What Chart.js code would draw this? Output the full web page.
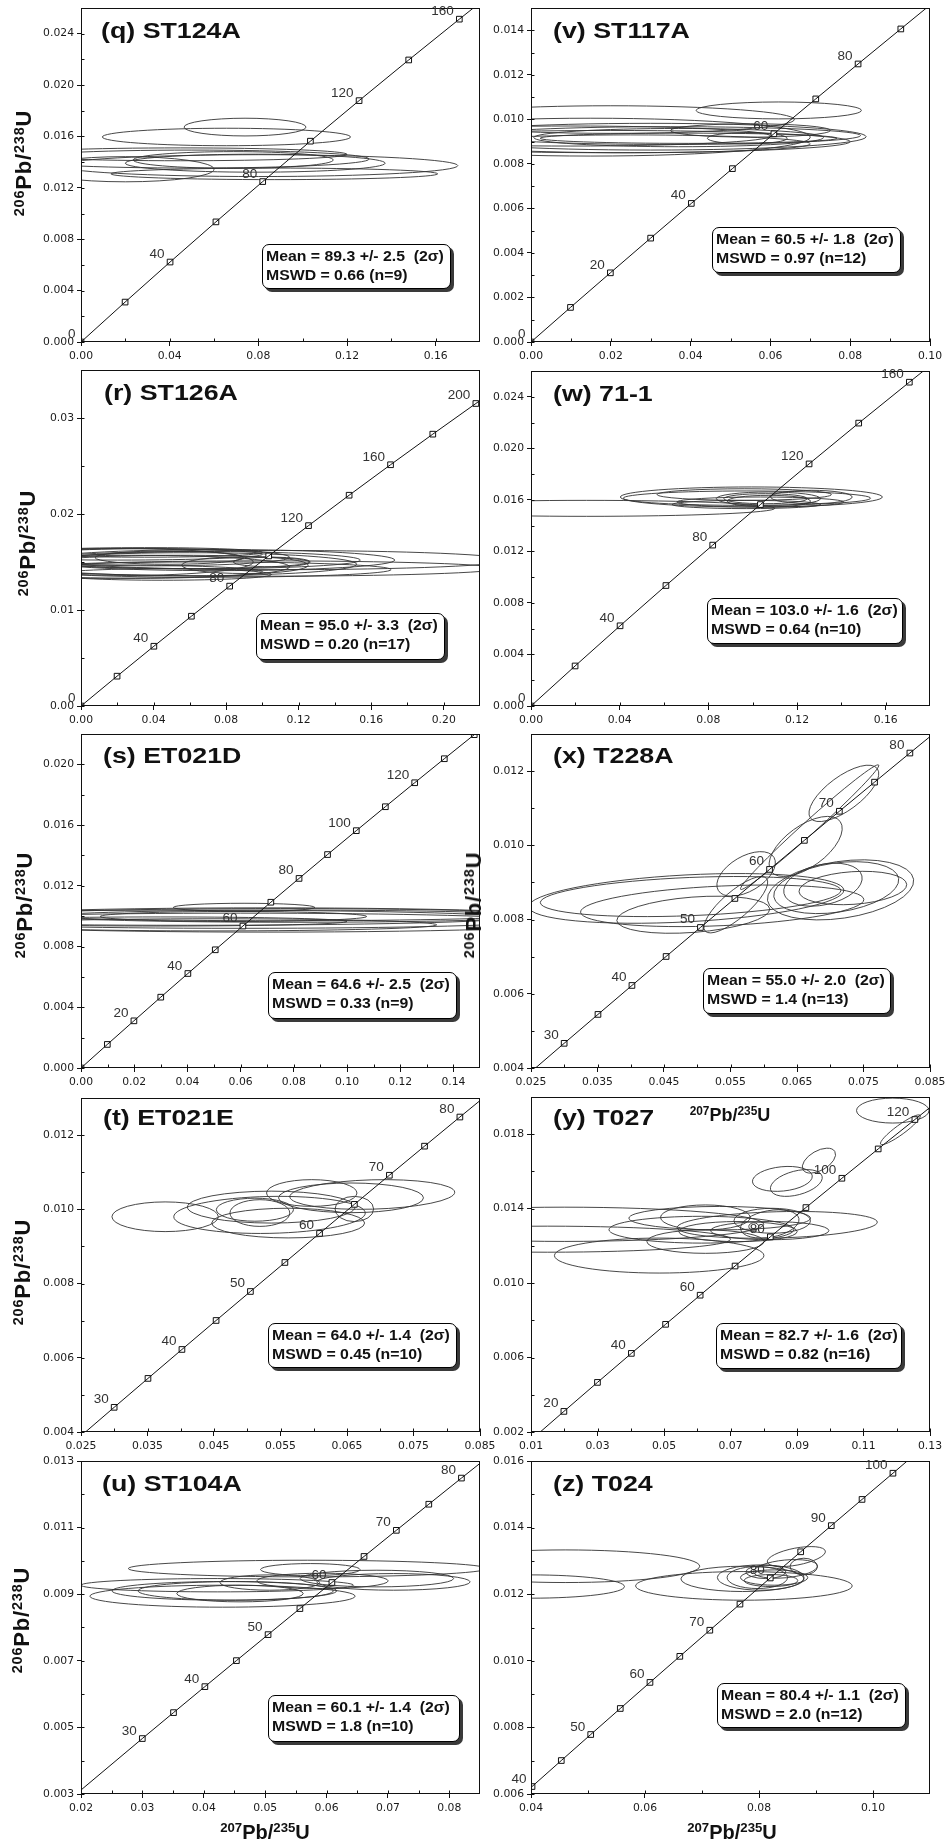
<!DOCTYPE html>
<html>
<head>
<meta charset="utf-8">
<script src="https://cdn.jsdelivr.net/npm/chart.js@4.4.0/dist/chart.umd.min.js"></script>
<style>
  body { margin: 0; background: #fff; width: 949px; height: 1842px; position: relative; overflow: hidden;
         font-family: "Liberation Sans", Arial, sans-serif; color: #111; }
  canvas { position: absolute; }
  .ttl { position: absolute; font-weight: bold; font-size: 22.5px; line-height: 1; white-space: nowrap;
         transform-origin: 0 0; transform: scaleX(1.19); }
  .box { position: absolute; box-sizing: border-box; border: 1.5px solid #000; border-radius: 7px;
         background: #fff; box-shadow: 3px 3px 0 #3a3a3a; }
  .box div { position: absolute; left: 3px; font-weight: bold; font-size: 14px; line-height: 1;
             white-space: pre; transform-origin: 0 0; transform: scaleX(1.13); }
  .ytl { position: absolute; font-weight: bold; font-size: 22px; line-height: 1; white-space: nowrap;
         letter-spacing: 0.8px; transform: translate(-50%, -50%) rotate(-90deg); }
  .xtl { position: absolute; font-weight: bold; line-height: 1; white-space: nowrap; transform: translateX(-50%); }
  .s { font-size: 0.66em; position: relative; top: -0.5em; }
</style>
</head>
<body>
<script>
// Concordia reference marks: age (Ma), 207Pb/235U, 206Pb/238U
const ageTab  = [0, 5, 10, 15, 20, 25, 30, 35, 40, 45, 50, 55, 60, 65, 70, 75, 80, 85, 90, 95, 100, 110, 120, 130, 140, 160, 180, 200];
const r207Tab = [0, 0.004936, 0.009897, 0.014883, 0.019892, 0.024927, 0.029986, 0.035071, 0.040180, 0.045315,
                 0.050475, 0.055661, 0.060872, 0.066109, 0.071371, 0.076660, 0.081975, 0.087316, 0.092683, 0.098077,
                 0.103498, 0.114420, 0.125450, 0.136588, 0.147839, 0.170675, 0.193966, 0.217718];
const r206Tab = [0, 0.000776, 0.001553, 0.002330, 0.003107, 0.003885, 0.004665, 0.005444, 0.006224, 0.007005,
                 0.007786, 0.008568, 0.009351, 0.010134, 0.010918, 0.011702, 0.012487, 0.013273, 0.014059, 0.014846,
                 0.015633, 0.017210, 0.018789, 0.020371, 0.021955, 0.025131, 0.028316, 0.031511];

// Error ellipses: [207/235, 206/238, half-width x, half-height y, rho]

// (q) ST124A
const qXT = ['0.00', '0.04', '0.08', '0.12', '0.16'];
const qYT = ['0.000', '0.004', '0.008', '0.012', '0.016', '0.020', '0.024'];
const qMarks = [0, 20, 40, 60, 80, 100, 120, 140, 160];
const qLabels = [0, 40, 80, 120, 160];
const qEnds = [[0, 0], [0.1770, 0.0260]];
const qEll = [
  [0.0740, 0.01673, 0.0275, 0.00069, 0], [0.0656, 0.01596, 0.0560, 0.00068, 0],
  [0.0800, 0.01373, 0.0900, 0.00085, 0], [0.0872, 0.01309, 0.0737, 0.00045, 0],
  [0.0786, 0.01392, 0.0586, 0.00070, 0], [0.0500, 0.01424, 0.0800, 0.00070, 0],
  [0.0450, 0.01461, 0.0750, 0.00050, 0], [0.0200, 0.01345, 0.0400, 0.00098, 0],
  [0.0687, 0.01417, 0.0451, 0.00065, 0]
];

// (v) ST117A
const vXT = ['0.00', '0.02', '0.04', '0.06', '0.08', '0.10'];
const vYT = ['0.000', '0.002', '0.004', '0.006', '0.008', '0.010', '0.012', '0.014'];
const vMarks = [0, 10, 20, 30, 40, 50, 60, 70, 80, 90];
const vLabels = [0, 20, 40, 60, 80];
const vEnds = [[0, 0], [0.0991, 0.0150]];
const vEll = [
  [0.0621, 0.01040, 0.0207, 0.00038, 0], [0.0200, 0.00999, 0.0460, 0.00062, 0],
  [0.0300, 0.00922, 0.0540, 0.00060, 0], [0.0350, 0.00927, 0.0476, 0.00040, 0],
  [0.0370, 0.00918, 0.0363, 0.00041, 0], [0.0395, 0.00915, 0.0372, 0.00023, 0],
  [0.0542, 0.00915, 0.0100, 0.00025, 0], [0.0200, 0.00900, 0.0600, 0.00050, 0],
  [0.0150, 0.00920, 0.0550, 0.00085, 0], [0.0100, 0.00925, 0.0500, 0.00045, 0],
  [0.0550, 0.00950, 0.0200, 0.00030, 0], [0.0250, 0.00890, 0.0450, 0.00040, 0]
];

// (r) ST126A
const rXT = ['0.00', '0.04', '0.08', '0.12', '0.16', '0.20'];
const rYT = ['0.00', '0.01', '0.02', '0.03'];
const rMarks = [0, 20, 40, 60, 80, 100, 120, 140, 160, 180, 200];
const rLabels = [0, 40, 80, 120, 160, 200];
const rEnds = [[0, 0], [0.2200, 0.03182]];
const rEll = [
  [0.110, 0.01520, 0.125, 0.00100, 0], [0.100, 0.01432, 0.130, 0.00080, 0],
  [0.075, 0.01520, 0.098, 0.00110, 0], [0.070, 0.01421, 0.101, 0.00080, 0],
  [0.065, 0.01520, 0.089, 0.00090, 0], [0.060, 0.01477, 0.092, 0.00120, 0],
  [0.055, 0.01500, 0.071, 0.00070, 0], [0.0904, 0.01467, 0.0349, 0.00087, 0],
  [0.0486, 0.01546, 0.0409, 0.00070, 0], [0.1052, 0.01500, 0.0212, 0.00050, 0],
  [0.020, 0.01580, 0.080, 0.00060, 0], [0.030, 0.01450, 0.085, 0.00120, 0],
  [0.010, 0.01400, 0.090, 0.00070, 0], [0.040, 0.01550, 0.075, 0.00090, 0],
  [0.025, 0.01500, 0.070, 0.00140, 0], [0.045, 0.01370, 0.060, 0.00060, 0],
  [0.035, 0.01600, 0.065, 0.00050, 0]
];

// (w) 71-1
const wXT = ['0.00', '0.04', '0.08', '0.12', '0.16'];
const wYT = ['0.000', '0.004', '0.008', '0.012', '0.016', '0.020', '0.024'];
const wMarks = [0, 20, 40, 60, 80, 100, 120, 140, 160];
const wLabels = [0, 40, 80, 120, 160];
const wEnds = [[0, 0], [0.1770, 0.0260]];
const wEll = [
  [0.0994, 0.01622, 0.0591, 0.00078, 0], [0.0974, 0.01613, 0.0558, 0.00056, 0],
  [0.0250, 0.01534, 0.0850, 0.00062, 0], [0.0962, 0.01641, 0.0393, 0.00045, 0],
  [0.0971, 0.01564, 0.0335, 0.00032, 0], [0.1071, 0.01609, 0.0235, 0.00052, 0],
  [0.1058, 0.01609, 0.0188, 0.00039, 0], [0.1265, 0.01622, 0.0184, 0.00052, 0],
  [0.1035, 0.01583, 0.0376, 0.00039, 0], [0.1073, 0.01590, 0.0188, 0.00045, 0]
];

// (s) ET021D
const sXT = ['0.00', '0.02', '0.04', '0.06', '0.08', '0.10', '0.12', '0.14'];
const sYT = ['0.000', '0.004', '0.008', '0.012', '0.016', '0.020'];
const sMarks = [0, 10, 20, 30, 40, 50, 60, 70, 80, 90, 100, 110, 120, 130, 140];
const sLabels = [20, 40, 60, 80, 100, 120];
const sEnds = [[0, 0], [0.1482, 0.0220]];
const sEll = [
  [0.0613, 0.01058, 0.0266, 0.00027, 0], [0.0573, 0.00998, 0.0501, 0.00033, 0],
  [0.0700, 0.00975, 0.1300, 0.00080, 0], [0.0600, 0.00970, 0.1100, 0.00050, 0],
  [0.0800, 0.01000, 0.0900, 0.00040, 0], [0.0500, 0.00943, 0.0837, 0.00040, 0],
  [0.0400, 0.00990, 0.1200, 0.00050, 0], [0.0750, 0.01010, 0.0950, 0.00040, 0],
  [0.0300, 0.00965, 0.0700, 0.00030, 0]
];

// (x) T228A
const xXT = ['0.025', '0.035', '0.045', '0.055', '0.065', '0.075', '0.085'];
const xYT = ['0.004', '0.006', '0.008', '0.010', '0.012'];
const xMarks = [30, 35, 40, 45, 50, 55, 60, 65, 70, 75, 80];
const xLabels = [30, 40, 50, 60, 70, 80];
const xEnds = [[0.02567, 0.0040], [0.0850, 0.01293]];
const xEll = [
  [0.04835, 0.00857, 0.0237, 0.00067, 0.33], [0.0490, 0.00862, 0.0226, 0.00054, 0.3],
  [0.05375, 0.00837, 0.0213, 0.00056, 0.3], [0.0494, 0.00813, 0.0115, 0.00050, 0.3],
  [0.05735, 0.00923, 0.0044, 0.00060, 0.5], [0.0558, 0.00840, 0.0048, 0.00076, 0.8],
  [0.0669, 0.01049, 0.0104, 0.00168, 0.99], [0.07205, 0.01140, 0.00525, 0.00076, 0.7],
  [0.0663, 0.00997, 0.0055, 0.00081, 0.6], [0.07155, 0.00880, 0.0110, 0.00081, 0.3],
  [0.0709, 0.00886, 0.0094, 0.00070, 0.3], [0.0689, 0.00894, 0.0059, 0.00058, 0.3],
  [0.0734, 0.00885, 0.0081, 0.00045, 0.2]
];

// (t) ET021E
const tXT = ['0.025', '0.035', '0.045', '0.055', '0.065', '0.075', '0.085'];
const tYT = ['0.004', '0.006', '0.008', '0.010', '0.012'];
const tMarks = [30, 35, 40, 45, 50, 55, 60, 65, 70, 75, 80];
const tLabels = [30, 40, 50, 60, 70, 80];
const tEnds = [[0.02567, 0.0040], [0.0850, 0.01293]];
const tEll = [
  [0.03765, 0.00980, 0.0080, 0.00040, 0], [0.05335, 0.00985, 0.0144, 0.00050, 0.1],
  [0.0536, 0.01006, 0.0126, 0.00043, 0], [0.05615, 0.00963, 0.0115, 0.00040, 0],
  [0.0519, 0.00990, 0.0045, 0.00036, 0], [0.05115, 0.00999, 0.0058, 0.00031, 0],
  [0.0597, 0.01044, 0.0068, 0.00036, 0], [0.0656, 0.01031, 0.0109, 0.00040, 0],
  [0.0688, 0.01040, 0.0124, 0.00040, 0.15], [0.0661, 0.01001, 0.0029, 0.00034, 0]
];

// (y) T027
const yXT = ['0.01', '0.03', '0.05', '0.07', '0.09', '0.11', '0.13'];
const yYT = ['0.002', '0.006', '0.010', '0.014', '0.018'];
const yMarks = [20, 30, 40, 50, 60, 70, 80, 90, 100, 110, 120];
const yLabels = [20, 40, 60, 80, 100, 120];
const yEnds = [[0.01277, 0.0020], [0.1300, 0.01944]];
const yEll = [
  [0.1188, 0.01927, 0.0109, 0.00067, 0], [0.1211, 0.01824, 0.0060, 0.00080, 0.92],
  [0.0966, 0.01658, 0.0050, 0.00067, 0.5], [0.0856, 0.01560, 0.0090, 0.00067, 0.2],
  [0.0898, 0.01538, 0.0078, 0.00072, 0.4], [0.0200, 0.01316, 0.0600, 0.00092, 0],
  [0.0150, 0.01236, 0.0550, 0.00070, 0], [0.04855, 0.01148, 0.0315, 0.00094, 0],
  [0.06675, 0.01349, 0.0273, 0.00063, 0], [0.06245, 0.01353, 0.0135, 0.00067, 0],
  [0.06125, 0.01287, 0.0278, 0.00072, 0], [0.06245, 0.01223, 0.0176, 0.00063, 0],
  [0.08405, 0.01313, 0.0301, 0.00072, 0.2], [0.07225, 0.01277, 0.0178, 0.00054, 0],
  [0.0818, 0.01282, 0.0178, 0.00049, 0], [0.08255, 0.01335, 0.0115, 0.00067, 0],
  [0.0770, 0.01304, 0.0015, 0.00020, 0], [0.0818, 0.01318, 0.0088, 0.00076, 0.3]
];

// (u) ST104A
const uXT = ['0.02', '0.03', '0.04', '0.05', '0.06', '0.07', '0.08'];
const uYT = ['0.003', '0.005', '0.007', '0.009', '0.011', '0.013'];
const uMarks = [30, 35, 40, 45, 50, 55, 60, 65, 70, 75, 80];
const uLabels = [30, 40, 50, 60, 70, 80];
const uEnds = [[0.0200, 0.00312], [0.0850, 0.01293]];
const uEll = [
  [0.0569, 0.00977, 0.0292, 0.00025, 0], [0.05735, 0.00974, 0.0081, 0.00018, 0],
  [0.0422, 0.00927, 0.0222, 0.00020, 0], [0.04305, 0.00894, 0.0216, 0.00033, 0],
  [0.04335, 0.00910, 0.0183, 0.00028, 0], [0.0452, 0.00910, 0.0159, 0.00028, 0],
  [0.0459, 0.00902, 0.0103, 0.00025, 0], [0.05075, 0.00935, 0.0081, 0.00023, 0],
  [0.05935, 0.00940, 0.0107, 0.00023, 0], [0.0709, 0.00937, 0.0125, 0.00025, 0],
  [0.0682, 0.00947, 0.0125, 0.00025, 0]
];

// (z) T024
const zXT = ['0.04', '0.06', '0.08', '0.10'];
const zYT = ['0.006', '0.008', '0.010', '0.012', '0.014', '0.016'];
const zMarks = [40, 45, 50, 55, 60, 65, 70, 75, 80, 85, 90, 95, 100];
const zLabels = [40, 50, 60, 70, 80, 90, 100];
const zEnds = [[0.0400, 0.0062], [0.1060, 0.0160]];
const zEll = [
  [0.0460, 0.01284, 0.0236, 0.00049, 0], [0.0400, 0.01223, 0.0164, 0.00035, 0],
  [0.07735, 0.01225, 0.0190, 0.00043, 0], [0.0771, 0.01246, 0.0108, 0.00038, 0],
  [0.0803, 0.01250, 0.0076, 0.00038, 0], [0.0797, 0.01250, 0.0053, 0.00033, 0],
  [0.08265, 0.01250, 0.0059, 0.00023, 0], [0.08465, 0.01276, 0.0056, 0.00028, 0.3],
  [0.08655, 0.01313, 0.0051, 0.00030, 0.5], [0.08785, 0.01283, 0.0024, 0.00025, 0],
  [0.0812, 0.01267, 0.0035, 0.00020, 0], [0.0821, 0.01241, 0.0047, 0.00018, 0]
];

// panel layout: plot box [left, top, right, bottom], axis ranges, titles, stats box
const panels = [
  { title: '(q) ST124A', at: [101, 39.5], box: [81, 8, 480, 342], xr: [0, 0.18], yr: [0, 0.026],
    xt: qXT, yt: qYT, marks: qMarks, labels: qLabels, ends: qEnds, ell: qEll,
    stat: ['Mean = 89.3 +/- 2.5  (2σ)', 'MSWD = 0.66 (n=9)'], sbox: [262, 244, 189, 45] },
  { title: '(v) ST117A', at: [553, 39.5], box: [531, 8, 930, 342], xr: [0, 0.10], yr: [0, 0.015],
    xt: vXT, yt: vYT, marks: vMarks, labels: vLabels, ends: vEnds, ell: vEll,
    stat: ['Mean = 60.5 +/- 1.8  (2σ)', 'MSWD = 0.97 (n=12)'], sbox: [712, 227, 189, 46] },
  { title: '(r) ST126A', at: [104, 401], box: [81, 370, 480, 706], xr: [0, 0.22], yr: [0, 0.035],
    xt: rXT, yt: rYT, marks: rMarks, labels: rLabels, ends: rEnds, ell: rEll,
    stat: ['Mean = 95.0 +/- 3.3  (2σ)', 'MSWD = 0.20 (n=17)'], sbox: [256, 613, 189, 47] },
  { title: '(w) 71-1', at: [553, 402], box: [531, 371, 930, 706], xr: [0, 0.18], yr: [0, 0.026],
    xt: wXT, yt: wYT, marks: wMarks, labels: wLabels, ends: wEnds, ell: wEll,
    stat: ['Mean = 103.0 +/- 1.6  (2σ)', 'MSWD = 0.64 (n=10)'], sbox: [707, 598, 196, 46] },
  { title: '(s) ET021D', at: [103, 764], box: [81, 734, 480, 1068], xr: [0, 0.15], yr: [0, 0.022],
    xt: sXT, yt: sYT, marks: sMarks, labels: sLabels, ends: sEnds, ell: sEll,
    stat: ['Mean = 64.6 +/- 2.5  (2σ)', 'MSWD = 0.33 (n=9)'], sbox: [268, 972, 189, 47] },
  { title: '(x) T228A', at: [553, 764], box: [531, 734, 930, 1068], xr: [0.025, 0.085], yr: [0.004, 0.013],
    xt: xXT, yt: xYT, marks: xMarks, labels: xLabels, ends: xEnds, ell: xEll,
    stat: ['Mean = 55.0 +/- 2.0  (2σ)', 'MSWD = 1.4 (n=13)'], sbox: [703, 968, 188, 46] },
  { title: '(t) ET021E', at: [103, 1126], box: [81, 1098, 480, 1432], xr: [0.025, 0.085], yr: [0.004, 0.013],
    xt: tXT, yt: tYT, marks: tMarks, labels: tLabels, ends: tEnds, ell: tEll,
    stat: ['Mean = 64.0 +/- 1.4  (2σ)', 'MSWD = 0.45 (n=10)'], sbox: [268, 1323, 189, 45] },
  { title: '(y) T027', at: [553, 1126], box: [531, 1097, 930, 1432], xr: [0.01, 0.13], yr: [0.002, 0.020],
    xt: yXT, yt: yYT, marks: yMarks, labels: yLabels, ends: yEnds, ell: yEll,
    stat: ['Mean = 82.7 +/- 1.6  (2σ)', 'MSWD = 0.82 (n=16)'], sbox: [716, 1323, 186, 46] },
  { title: '(u) ST104A', at: [102, 1492], box: [81, 1461, 480, 1794], xr: [0.02, 0.085], yr: [0.003, 0.013],
    xt: uXT, yt: uYT, marks: uMarks, labels: uLabels, ends: uEnds, ell: uEll,
    stat: ['Mean = 60.1 +/- 1.4  (2σ)', 'MSWD = 1.8 (n=10)'], sbox: [268, 1695, 192, 47] },
  { title: '(z) T024', at: [553, 1492], box: [531, 1461, 930, 1794], xr: [0.04, 0.11], yr: [0.006, 0.016],
    xt: zXT, yt: zYT, marks: zMarks, labels: zLabels, ends: zEnds, ell: zEll,
    stat: ['Mean = 80.4 +/- 1.1  (2σ)', 'MSWD = 2.0 (n=12)'], sbox: [717, 1683, 189, 45] }
];

// axis titles (centre x, centre y) for the rotated ones; (centre x, baseline, size) for the flat ones
const yTitles = [[24, 163], [28, 543], [25, 905], [23, 1272], [22, 1620], [474, 905]];
const xTitles = [[265, 1839, 20], [732, 1839, 20], [730, 1121, 18]];

const YW = 75, XH = 28, PT = 10, PR = 20;

function pt(age) {
  const i = ageTab.indexOf(age);
  return { x: r207Tab[i], y: r206Tab[i] };
}

function minors(vals, lo, hi) {
  const step = vals[1] - vals[0];
  const out = [vals[0] - step / 2];
  vals.forEach(v => out.push(v + step / 2));
  return out.filter(v => v > lo + 1e-9 && v < hi - 1e-9);
}

function drawEllipse(ctx, xs, ys, e) {
  const cx = xs.getPixelForValue(e[0]);
  const cy = ys.getPixelForValue(e[1]);
  const kx = xs.getPixelForValue(e[0] + e[2]) - cx;
  const ky = ys.getPixelForValue(e[1] + e[3]) - cy;
  const a = kx * kx, d = ky * ky, b = e[4] * kx * ky;
  const m = (a + d) / 2;
  const r = Math.sqrt((a - d) * (a - d) / 4 + b * b);
  const th = 0.5 * Math.atan2(2 * b, a - d);
  ctx.beginPath();
  ctx.ellipse(cx, cy, Math.sqrt(m + r), Math.sqrt(Math.max(m - r, 0.25)), th, 0, Math.PI * 2);
  ctx.stroke();
}

// ellipses, frame, inner ticks and age labels for one panel
function panelPlugin(p) {
  return {
    id: 'panel',
    beforeDatasetsDraw(chart) {
      const { ctx, chartArea: a, scales } = chart;
      ctx.save();
      ctx.beginPath();
      ctx.rect(a.left, a.top, a.right - a.left, a.bottom - a.top);
      ctx.clip();
      ctx.strokeStyle = '#333';
      ctx.lineWidth = 0.9;
      p.ell.forEach(e => drawEllipse(ctx, scales.x, scales.y, e));
      ctx.restore();
    },
    afterDatasetsDraw(chart) {
      const { ctx, chartArea: a, scales } = chart;
      const xs = scales.x, ys = scales.y;
      ctx.save();
      ctx.strokeStyle = '#111';
      ctx.lineWidth = 1;
      ctx.strokeRect(a.left + 0.5, a.top + 0.5, a.right - a.left - 1, a.bottom - a.top - 1);

      const xv = p.xt.map(parseFloat), yv = p.yt.map(parseFloat);
      const xIn = xv.concat(minors(xv, p.xr[0], p.xr[1]));
      const yIn = yv.concat(minors(yv, p.yr[0], p.yr[1]));
      ctx.beginPath();
      xIn.forEach(v => {
        const px = Math.round(xs.getPixelForValue(v)) + 0.5;
        ctx.moveTo(px, a.bottom);
        ctx.lineTo(px, a.bottom - 3.5);
      });
      yIn.forEach(v => {
        const py = Math.round(ys.getPixelForValue(v)) + 0.5;
        ctx.moveTo(a.left, py);
        ctx.lineTo(a.left + 3.5, py);
      });
      ctx.stroke();

      ctx.font = '13.5px "Liberation Sans", Arial, sans-serif';
      ctx.fillStyle = '#333';
      ctx.textAlign = 'right';
      ctx.textBaseline = 'alphabetic';
      p.labels.forEach(age => {
        const q = pt(age);
        ctx.fillText(String(age), xs.getPixelForValue(q.x) - 5.5, ys.getPixelForValue(q.y) - 4);
      });
      ctx.restore();
    }
  };
}

const tickFont = { family: '"DejaVu Sans", sans-serif', size: 10.8 };

panels.forEach(p => {
  const [L, T, R, B] = p.box;
  const cv = document.createElement('canvas');
  cv.width = (R - L) + YW + PR;
  cv.height = (B - T) + PT + XH;
  cv.style.left = (L - YW) + 'px';
  cv.style.top = (T - PT) + 'px';
  document.body.appendChild(cv);

  const markPts = p.marks.map(pt);
  const curve = [{ x: p.ends[0][0], y: p.ends[0][1] }]
    .concat(markPts)
    .concat([{ x: p.ends[1][0], y: p.ends[1][1] }]);

  new Chart(cv, {
    type: 'scatter',
    data: {
      datasets: [
        { data: curve, showLine: true, borderColor: '#111', borderWidth: 1, pointRadius: 0 },
        { data: markPts, showLine: false, pointStyle: 'rect', pointRadius: 4, pointBorderWidth: 1,
          pointBorderColor: '#111', pointBackgroundColor: '#fff' },
        { data: markPts, showLine: false, pointStyle: 'crossRot', pointRadius: 3.6, pointBorderWidth: 0.7,
          pointBorderColor: '#333' }
      ]
    },
    options: {
      responsive: false,
      animation: false,
      events: [],
      layout: { padding: { left: 0, top: PT, right: PR, bottom: 0 } },
      plugins: { legend: { display: false }, tooltip: { enabled: false } },
      scales: {
        x: {
          type: 'linear', position: 'bottom', min: p.xr[0], max: p.xr[1],
          afterBuildTicks: s => { s.ticks = p.xt.map(t => ({ value: parseFloat(t) })); },
          afterFit: s => { s.height = XH; },
          ticks: { callback: (v, i) => p.xt[i], font: tickFont, color: '#1a1a1a', padding: 4,
                   maxRotation: 0, autoSkip: false },
          grid: { drawOnChartArea: false, drawTicks: true, tickLength: 4, color: '#111' },
          border: { display: false }
        },
        y: {
          type: 'linear', position: 'left', min: p.yr[0], max: p.yr[1],
          afterBuildTicks: s => { s.ticks = p.yt.map(t => ({ value: parseFloat(t) })); },
          afterFit: s => { s.width = YW; },
          ticks: { callback: (v, i) => p.yt[i], font: tickFont, color: '#1a1a1a', padding: 3, autoSkip: false },
          grid: { drawOnChartArea: false, drawTicks: true, tickLength: 4, color: '#111' },
          border: { display: false }
        }
      }
    },
    plugins: [panelPlugin(p)]
  });
});

// text overlays
function addDiv(cls, html, css) {
  const d = document.createElement('div');
  d.className = cls;
  d.innerHTML = html;
  Object.assign(d.style, css);
  document.body.appendChild(d);
  return d;
}

panels.forEach(p => {
  addDiv('ttl', p.title, { left: p.at[0] + 'px', top: (p.at[1] - 0.8465 * 22.5) + 'px' });
  const [bl, bt, bw, bh] = p.sbox;
  const box = addDiv('box', '', { left: bl + 'px', top: bt + 'px', width: bw + 'px', height: bh + 'px' });
  p.stat.forEach((line, i) => {
    const ln = document.createElement('div');
    ln.textContent = line;
    ln.style.top = (4.4 + i * 19) + 'px';
    box.appendChild(ln);
  });
});

const isoY = '<span class="s">206</span>Pb/<span class="s">238</span>U';
const isoX = '<span class="s">207</span>Pb/<span class="s">235</span>U';
yTitles.forEach(([cx, cy]) => addDiv('ytl', isoY, { left: cx + 'px', top: cy + 'px' }));
xTitles.forEach(([cx, base, fs]) => addDiv('xtl', isoX, {
  left: cx + 'px', top: (base - 0.8465 * fs) + 'px', fontSize: fs + 'px'
}));
</script>
</body>
</html>
